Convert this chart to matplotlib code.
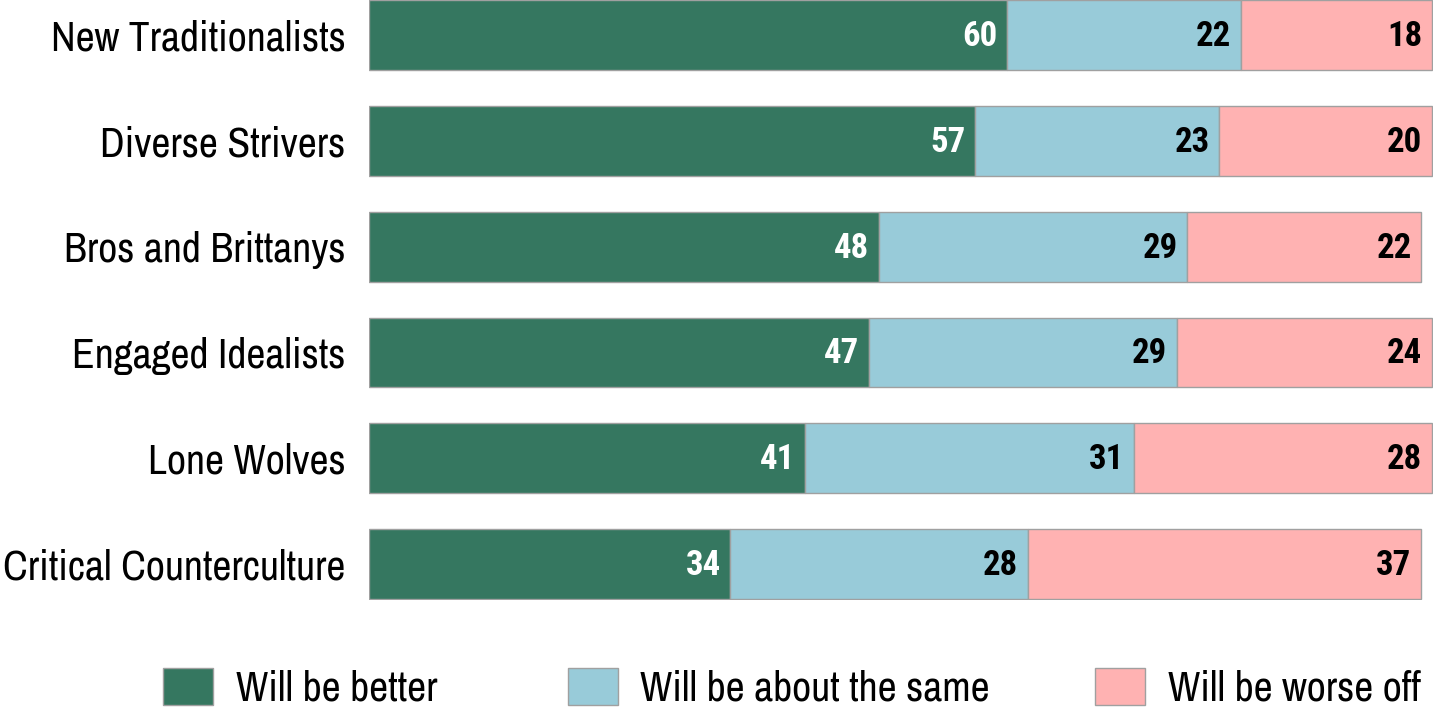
"""
Horizontal stacked bars: outlook by segment (better / same / worse off).
Saves out.png.
"""

import matplotlib
matplotlib.use("Agg")
import matplotlib.pyplot as plt
import numpy as np

plt.rcParams["font.family"] = ["Archivo Narrow", "Roboto Condensed", "DejaVu Sans"]
NUM_FONT = ["Roboto Condensed", "DejaVu Sans"]

segments = [
    "New Traditionalists",
    "Diverse Strivers",
    "Bros and Brittanys",
    "Engaged Idealists",
    "Lone Wolves",
    "Critical Counterculture",
]
better = [60, 57, 48, 47, 41, 34]
same = [22, 23, 29, 29, 31, 28]
worse = [18, 20, 22, 24, 28, 37]

series_names = ["Will be better", "Will be about the same", "Will be worse off"]
colors = ["#357760", "#98CBD9", "#FFB2B2"]
text_colors = ["white", "black", "black"]

W, H = 1433, 710


def main():
    fig = plt.figure(figsize=(W / 100, H / 100), dpi=100)
    ax = fig.add_axes([369 / W, 110 / H, 1 - 369 / W, 600 / H])

    y = np.arange(len(segments))
    left = np.zeros(len(segments))
    handles = []
    for vals, name, col, tcol in zip([better, same, worse], series_names, colors, text_colors):
        vals = np.array(vals, dtype=float)
        bars = ax.barh(y, vals, left=left, height=0.66, color=col,
                       edgecolor="#A0A0A0", linewidth=1.0, label=name)
        handles.append(bars)
        for yi, l, v in zip(y, left, vals):
            ax.annotate(f"{int(v)}", xy=(l + v, yi), xytext=(-7, -1),
                        textcoords="offset points", ha="right", va="center",
                        fontsize=25, fontweight="bold", color=tcol, family=NUM_FONT)
        left += vals

    ax.set_xlim(0, 100.1)
    ax.set_ylim(5.34, -0.331)
    ax.set_yticks(y)
    ax.set_yticklabels(segments, fontsize=30)
    ax.tick_params(axis="y", length=0, pad=17)
    ax.set_xticks([])
    for s in ax.spines.values():
        s.set_visible(False)

    # one legend per entry so each swatch sits at its own x position
    for h, name, x0 in zip(handles, series_names, [163, 568, 1095]):
        fig.legend(handles=[h], labels=[name], loc="center left",
                   bbox_to_anchor=(x0 / W, 22 / H), frameon=False,
                   fontsize=30, handlelength=1.19, handleheight=0.96,
                   handletextpad=0.55, borderpad=0, borderaxespad=0)

    fig.savefig("out.png", dpi=100)
    plt.close(fig)


if __name__ == "__main__":
    main()
